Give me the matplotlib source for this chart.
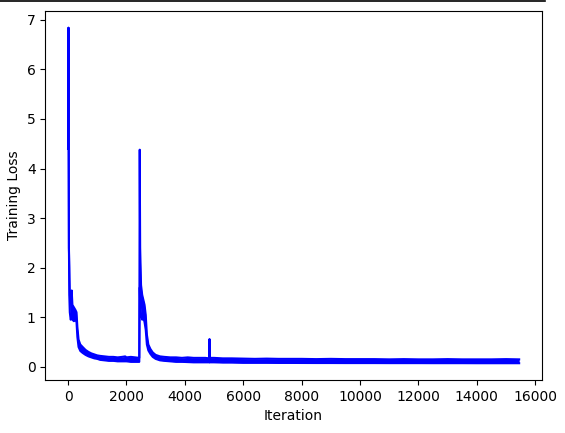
import matplotlib
matplotlib.use("Agg")
import matplotlib.pyplot as plt
from matplotlib.lines import Line2D

iterations = [0, 15, 30, 45, 60, 90, 125, 150, 200, 250, 290, 320, 360, 420,
              500, 600, 700, 800, 900, 1000, 1100, 1250, 1400, 1550, 1700,
              1850, 1960, 2000, 2150, 2300, 2440,
              2455, 2470, 2500, 2540, 2580, 2620, 2660, 2700, 2750, 2820,
              2900, 3000, 3150, 3300, 3500, 3700, 3900, 4100, 4300, 4500,
              4700, 4835, 4845, 4855, 5000, 5300, 5600, 6000, 6400, 6800,
              7200, 7600, 8000, 8500, 9000, 9500, 10000, 10500, 11000,
              11500, 12000, 12500, 13000, 13500, 14000, 14500, 15000, 15450]

# Lower edge of the noisy loss band
loss_low = [4.40, 6.84, 2.40, 1.40, 1.10, 0.95, 1.00, 0.95, 0.92, 0.95, 0.90,
            0.60, 0.40, 0.32, 0.28, 0.24, 0.21, 0.19, 0.17, 0.16, 0.14, 0.13,
            0.12, 0.12, 0.11, 0.11, 0.11, 0.11, 0.10, 0.10, 0.10,
            1.60, 1.30, 1.05, 0.95, 1.00, 0.90, 0.75, 0.45, 0.33, 0.26,
            0.20, 0.16, 0.13, 0.12, 0.11, 0.10, 0.10, 0.095, 0.09, 0.09,
            0.09, 0.09, 0.12, 0.09, 0.09, 0.085, 0.085, 0.08, 0.08, 0.08,
            0.078, 0.078, 0.077, 0.076, 0.076, 0.075, 0.075, 0.075, 0.074,
            0.074, 0.074, 0.073, 0.073, 0.073, 0.072, 0.072, 0.072, 0.072]

# Upper edge of the noisy loss band
loss_high = [4.40, 6.84, 2.40, 2.00, 1.45, 1.30, 1.54, 1.25, 1.20, 1.15, 1.10,
             0.80, 0.55, 0.45, 0.40, 0.34, 0.30, 0.27, 0.25, 0.23, 0.22, 0.21,
             0.20, 0.20, 0.19, 0.20, 0.21, 0.19, 0.20, 0.19, 0.18,
             4.38, 2.40, 1.65, 1.45, 1.35, 1.25, 1.05, 0.65, 0.45, 0.36,
             0.29, 0.24, 0.21, 0.20, 0.19, 0.19, 0.18, 0.19, 0.18, 0.18,
             0.18, 0.17, 0.56, 0.18, 0.18, 0.17, 0.17, 0.165, 0.16, 0.165,
             0.16, 0.16, 0.16, 0.155, 0.16, 0.155, 0.155, 0.155, 0.15,
             0.155, 0.15, 0.15, 0.155, 0.15, 0.15, 0.15, 0.155, 0.15]

fig = plt.figure(figsize=(5.65, 4.33), dpi=100)
ax = fig.add_axes([0.0805, 0.1224, 0.8783, 0.8522])

ax.fill_between(iterations, loss_low, loss_high, color="blue", linewidth=0)
ax.plot(iterations, loss_low, color="blue", linewidth=1.5)
ax.plot(iterations, loss_high, color="blue", linewidth=1.5)

ax.set_xlabel("Iteration")
ax.set_ylabel("Training Loss")
ax.set_xticks([0, 2000, 4000, 6000, 8000, 10000, 12000, 14000, 16000])
ax.set_yticks([0, 1, 2, 3, 4, 5, 6, 7])

fig.add_artist(Line2D([0, 545 / 565], [1 - 0.8 / 433, 1 - 0.8 / 433],
                      color="black", linewidth=1.2, transform=fig.transFigure))

fig.savefig("out.png", dpi=100)
